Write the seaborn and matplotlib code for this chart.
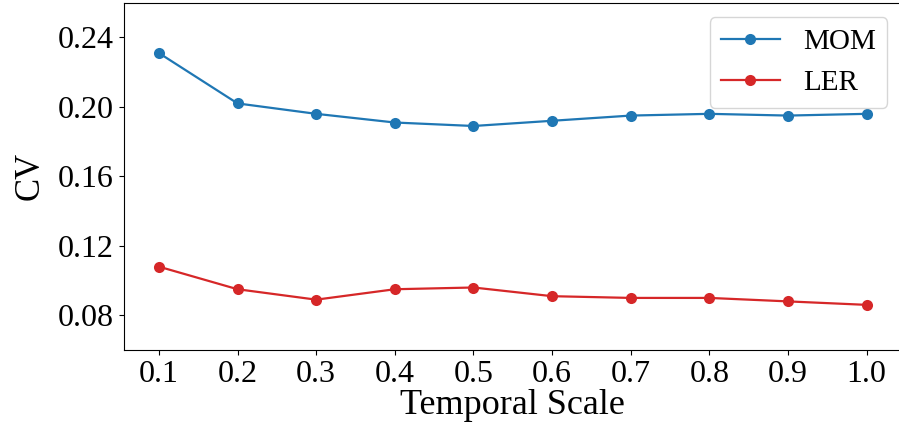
import matplotlib
matplotlib.use("Agg")
import matplotlib.pyplot as plt
import seaborn as sns
import pandas as pd

scales = [0.1, 0.2, 0.3, 0.4, 0.5, 0.6, 0.7, 0.8, 0.9, 1.0]
mom_cv = [0.231, 0.202, 0.196, 0.191, 0.189, 0.192, 0.195, 0.196, 0.195, 0.196]
ler_cv = [0.108, 0.095, 0.089, 0.095, 0.096, 0.091, 0.090, 0.090, 0.088, 0.086]
y_ticks = [0.08, 0.12, 0.16, 0.20, 0.24]

plt.rcParams['font.family'] = ['Liberation Serif', 'DejaVu Serif']
plt.rcParams['mathtext.fontset'] = 'stix'

df = pd.DataFrame({
    'Temporal Scale': scales * 2,
    'CV': mom_cv + ler_cv,
    'method': ['MOM'] * len(scales) + ['LER'] * len(scales),
})

fig = plt.figure(figsize=(8.99, 4.34), dpi=100)
# the original was cropped on the right, so the axes run a little past the edge
ax = fig.add_axes([0.1374, 0.1935, 0.8660, 0.8003])

sns.lineplot(data=df, x='Temporal Scale', y='CV', hue='method',
             palette={'MOM': '#1f77b4', 'LER': '#d62728'},
             marker='o', markersize=8, markeredgewidth=0, linewidth=1.6, ax=ax)

ax.set_xlim(0.055, 1.045)
ax.set_ylim(0.06, 0.26)
ax.set_xticks(scales)
ax.set_xticklabels([f'{s:.1f}' for s in scales])
ax.set_yticks(y_ticks)
ax.set_yticklabels([f'{t:.2f}' for t in y_ticks])
ax.tick_params(labelsize=23)
ax.set_xlabel('Temporal Scale', fontsize=26, labelpad=0)
ax.set_ylabel('CV', fontsize=25, labelpad=8)
ax.legend(loc='upper right', fontsize=21, handlelength=2.0)

fig.savefig('out.png', dpi=100)
